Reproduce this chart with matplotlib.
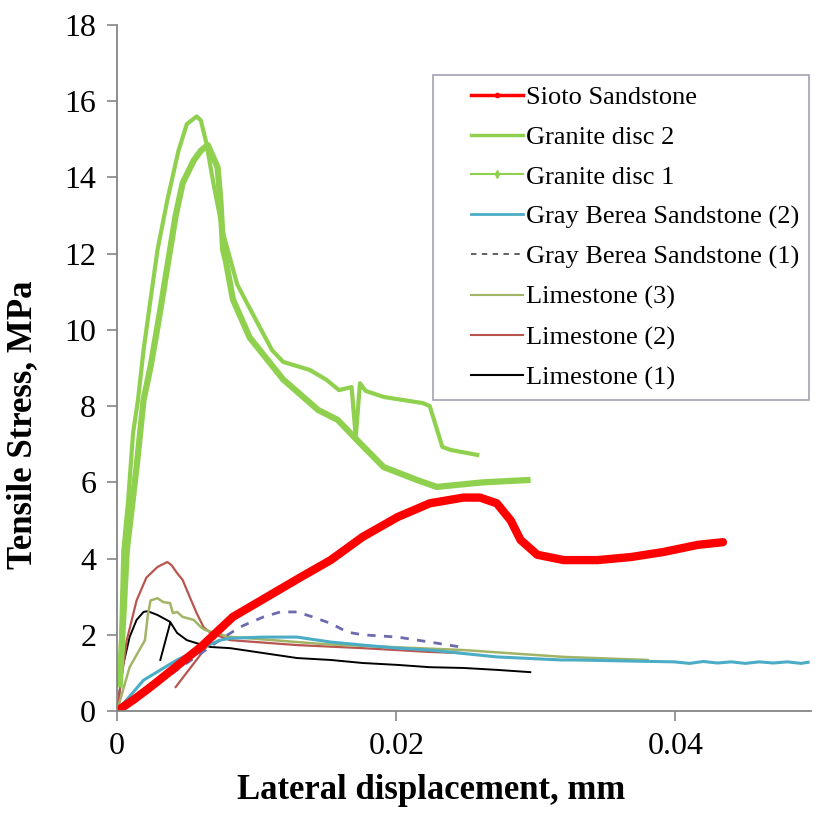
import numpy as np
import matplotlib
matplotlib.use('Agg')
import matplotlib.pyplot as plt
from matplotlib.lines import Line2D
from matplotlib.legend_handler import HandlerLine2D

# values (x in mm, y in MPa); nan = gap in a trace
sioto_x = [0, 0.0012, 0.0024, 0.006, 0.0083, 0.0131, 0.0153, 0.0176, 0.0201, 0.0224,
           0.0248, 0.026, 0.0272, 0.0282, 0.0289, 0.0301, 0.032, 0.0344, 0.0368,
           0.0391, 0.0416, 0.0434]
sioto_y = [0, 0.3, 0.63, 1.68, 2.47, 3.5, 3.96, 4.57, 5.09, 5.45, 5.6, 5.6, 5.45,
           5.0, 4.49, 4.1, 3.96, 3.96, 4.04, 4.17, 4.36, 4.43]

gran2_x = [0.0002, 0.00045, 0.0008, 0.00115, 0.0015, 0.0019, 0.0024, 0.0029, 0.0036,
           0.0044, 0.005, 0.0057, 0.006, 0.0064, 0.0069, 0.0076, 0.0086, 0.0096,
           0.0111, 0.0119, 0.0138, 0.015, 0.0159, 0.0168, 0.0171, 0.0174, 0.0178,
           0.0191, 0.0219, 0.0224, 0.0233, 0.0239, 0.0258]
gran2_y = [0.7, 4.2, 5.54, 7.3, 8.16, 9.47, 10.8, 12.1, 13.4, 14.7, 15.4, 15.6, 15.5,
           14.9, 13.85, 12.54, 11.2, 10.5, 9.47, 9.16, 8.95, 8.69, 8.42, 8.5, 7.19,
           8.6, 8.4, 8.24, 8.08, 8.0, 6.93, 6.85, 6.72]

gran1_x = [0.0002, 0.0007, 0.0014, 0.0019, 0.0024, 0.003, 0.0036, 0.0042, 0.0047,
           0.0055, 0.006, 0.0065, 0.0072, 0.0074, 0.0076, 0.0078, 0.0083, 0.0095,
           0.0119, 0.0144, 0.0158, 0.0174, 0.0191, 0.0215, 0.0229, 0.0262, 0.0294]
gran1_y = [0.7, 4.22, 6.4, 8.16, 9.03, 10.3, 11.65, 13.0, 13.85, 14.45, 14.7, 14.85,
           14.27, 13.4, 12.1, 11.8, 10.8, 9.8, 8.7, 7.9, 7.64, 7.03, 6.4, 6.06, 5.88,
           6.0, 6.06]

gbs2_x = [0, 0.0019, 0.0043, 0.0062, 0.0074, 0.0081, 0.0105, 0.0129, 0.0153, 0.0176,
          0.0201, 0.0224, 0.0272, 0.0318, 0.0327, 0.0399, 0.041, 0.042, 0.043, 0.044,
          0.045, 0.046, 0.047, 0.048, 0.049, 0.0495]
gbs2_y = [0, 0.81, 1.34, 1.68, 1.86, 1.91, 1.94, 1.94, 1.81, 1.73, 1.65, 1.6, 1.42,
          1.34, 1.34, 1.29, 1.25, 1.3, 1.26, 1.29, 1.25, 1.29, 1.26, 1.29, 1.25, 1.28]

gbs1_x = [0, 0.004, 0.0075, 0.0088, 0.0094, 0.0105, 0.0117, 0.0129, 0.014, 0.0153,
          0.0165, 0.0176, 0.0201, 0.0224, 0.0246]
gbs1_y = [0, 1.0, 1.9, 2.2, 2.3, 2.47, 2.6, 2.6, 2.47, 2.3, 2.07, 2.0, 1.94, 1.81, 1.68]

lime3_x = [0, 0.0009, 0.0016, 0.002, 0.0022, 0.0024, 0.0029, 0.0033, 0.0038, 0.004,
           0.0043, 0.0047, 0.0055, 0.006, 0.0063, 0.008, 0.015, 0.0248, 0.032, 0.038]
lime3_y = [0, 1.15, 1.6, 1.86, 2.5, 2.9, 2.96, 2.86, 2.83, 2.57, 2.6, 2.47, 2.39,
           2.2, 2.13, 1.95, 1.75, 1.6, 1.42, 1.34]

lime2_x = [0, 0.0007, 0.0014, 0.0021, 0.0029, 0.0036, 0.0039, 0.0043, 0.0047, 0.0052,
           0.0057, 0.0062, 0.0067, 0.0081, 0.0129, 0.0176, 0.0224, 0.0248,
           np.nan, 0.0042, 0.0064]
lime2_y = [0, 1.86, 2.9, 3.5, 3.78, 3.91, 3.83, 3.62, 3.44, 3.0, 2.57, 2.2, 2.05,
           1.86, 1.73, 1.65, 1.55, 1.52, np.nan, 0.63, 1.68]

lime1_x = [0, 0.0004, 0.0009, 0.0014, 0.0019, 0.0022, 0.0029, 0.0038, 0.0043, 0.005,
           0.0057, 0.0067, 0.0081, 0.0105, 0.0129, 0.0153, 0.0176, 0.0201, 0.0224,
           0.0248, 0.0272, 0.0296, np.nan, 0.0038, 0.0031]
lime1_y = [0, 1.15, 1.94, 2.39, 2.6, 2.62, 2.52, 2.34, 2.05, 1.86, 1.78, 1.68, 1.65,
           1.52, 1.39, 1.34, 1.26, 1.21, 1.15, 1.13, 1.08, 1.02, np.nan, 2.3, 1.34]

labels = ['Sioto Sandstone', 'Granite disc 2', 'Granite disc 1',
          'Gray Berea Sandstone (2)', 'Gray Berea Sandstone (1)', 'Limestone (3)',
          'Limestone (2)', 'Limestone (1)']


class ShortHandler(HandlerLine2D):
    # draw the legend sample only on the right part of the handle box
    def create_artists(self, legend, orig_handle, xdescent, ydescent, width,
                       height, fontsize, trans):
        shift = width * 0.34
        return super().create_artists(legend, orig_handle, xdescent - shift, ydescent,
                                      width - shift, height, fontsize, trans)


plt.rcParams['font.family'] = ['Liberation Serif', 'DejaVu Serif']

fig = plt.figure(figsize=(8.3, 8.14), dpi=100)
ax = fig.add_axes([0.141, 0.1265, 0.836, 0.8428])

green = '#8FD14F'
# back to front so the red trace sits on top
ax.plot(lime1_x, lime1_y, color='black', lw=1.4)
ax.plot(lime2_x, lime2_y, color='#B9554F', lw=1.6)
ax.plot(lime3_x, lime3_y, color='#A2B465', lw=1.8)
ax.plot(gbs1_x, gbs1_y, color='#6B6BAE', lw=2, ls=(0, (3, 3)))
ax.plot(gbs2_x, gbs2_y, color='#4BACC6', lw=2.2)
ax.plot(gran1_x, gran1_y, color=green, lw=4.5, solid_joinstyle='round')
ax.plot(gran2_x, gran2_y, color=green, lw=3, solid_joinstyle='round')
ax.plot(sioto_x, sioto_y, color='#FF0000', lw=6, solid_joinstyle='round',
        solid_capstyle='round')

handles = [
    Line2D([], [], color='#FF0000', lw=2.5, marker='o', ms=3),
    Line2D([], [], color=green, lw=2.5),
    Line2D([], [], color=green, lw=1.5, marker='d', ms=4),
    Line2D([], [], color='#4BACC6', lw=2),
    Line2D([], [], color='#555555', lw=1.3, ls=(0, (3, 3))),
    Line2D([], [], color='#A2B465', lw=1.5),
    Line2D([], [], color='#B9554F', lw=1.5),
    Line2D([], [], color='black', lw=1.5),
]

ax.set_xlim(0, 0.0497)
ax.set_ylim(0, 18)
ax.set_xticks([0, 0.02, 0.04])
ax.set_xticklabels(['0', '0.02', '0.04'])
ax.set_yticks(range(0, 19, 2))

for s in ['top', 'right']:
    ax.spines[s].set_visible(False)
for s in ['left', 'bottom']:
    ax.spines[s].set_color('#868686')
    ax.spines[s].set_linewidth(1.3)
ax.tick_params(direction='out', length=7, width=1.2, color='#868686',
               labelsize=23, pad=8)

ax.set_xlabel('Lateral displacement, mm', fontsize=25, fontweight='bold')
ax.set_ylabel('Tensile Stress, MPa', fontsize=25, fontweight='bold')
ax.xaxis.set_label_coords(0.452, -0.092)
ax.yaxis.set_label_coords(-0.112, 0.417)

leg = ax.legend(handles, labels, loc='upper left', bbox_to_anchor=(0.522, 0.908),
                bbox_transform=fig.transFigure, fontsize=19, frameon=True,
                fancybox=False, handlelength=3.0, handletextpad=0.1,
                labelspacing=0.62, borderpad=0.4, borderaxespad=0,
                handler_map={Line2D: ShortHandler()})
leg.get_frame().set_edgecolor('#8C8CA0')
leg.get_frame().set_linewidth(1.2)

fig.savefig('out.png', dpi=100)
